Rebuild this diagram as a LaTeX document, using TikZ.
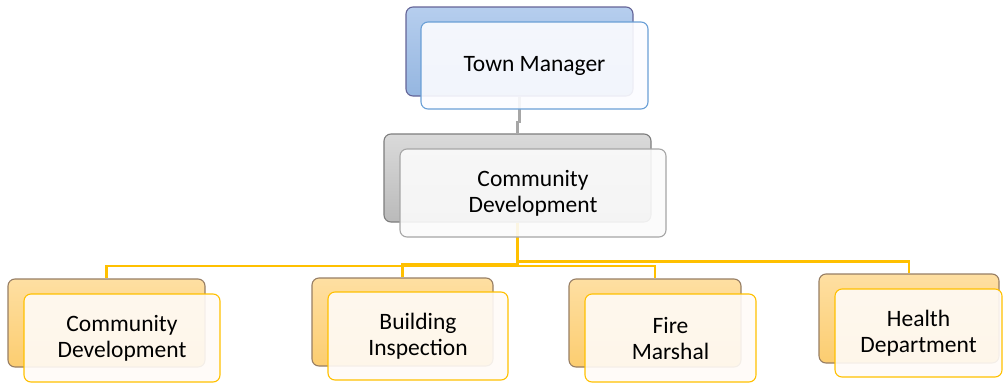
\documentclass[tikz,border=0pt]{standalone}
\usepackage{fontspec}
\setmainfont{Carlito}
\usepackage{tikz}
\usetikzlibrary{positioning}

\definecolor{bluetop}{HTML}{B6CEEE}
\definecolor{bluebot}{HTML}{95B6E0}
\definecolor{blueline}{HTML}{6A9FD6}
\definecolor{graytop}{HTML}{DADADA}
\definecolor{graybot}{HTML}{BABABA}
\definecolor{grayline}{HTML}{A6A6A6}
\definecolor{orangetop}{HTML}{FEDFA2}
\definecolor{orangebot}{HTML}{FCCD70}
\definecolor{gold}{HTML}{FFC000}
\definecolor{backline}{HTML}{7D7D7D}

\begin{document}
\begin{tikzpicture}[x=1pt, y=-1pt,
    backbox/.style={draw=backline, rounded corners=7pt, line width=1.1pt, inner sep=0pt},
    frontbox/.style={rounded corners=7pt, line width=1.1pt, inner sep=0pt,
        fill opacity=0.9, text opacity=1, align=center,
        font=\fontsize{23.5}{26}\selectfont},
    bluebox/.style={backbox, top color=bluetop, bottom color=bluebot, draw=backline!80!blue},
    graybox/.style={backbox, top color=graytop, bottom color=graybot},
    orangebox/.style={backbox, top color=orangetop, bottom color=orangebot, draw=backline!80!orange},
    bluefront/.style={frontbox, draw=blueline, fill=blue!1},
    grayfront/.style={frontbox, draw=grayline, fill=gray!3},
    orangefront/.style={frontbox, draw=gold, fill=orange!3},
    link/.style={draw=gold, line width=2.2pt}]
    \useasboundingbox (0,0) rectangle (1003,383);

    % Elbows
    \coordinate (j0) at (519.5,122);
    \coordinate (h1) at (517.5,266);
    \coordinate (h2) at (517.5,264.5);
    \coordinate (h3) at (517.5,266);
    \coordinate (h4) at (517.5,261.5);

    % Back boxes
    \node[bluebox, minimum width=227, minimum height=89] (tm-back) at (519.5,51.5) {};
    \node[graybox, minimum width=267, minimum height=88] (cd-back) at (517.5,178) {};
    \node[orangebox, minimum width=197, minimum height=88] (c1-back) at (106.5,323) {};
    \node[orangebox, minimum width=181, minimum height=88] (c2-back) at (402.5,322) {};
    \node[orangebox, minimum width=172, minimum height=88] (c3-back) at (655,323) {};
    \node[orangebox, minimum width=180, minimum height=89] (c4-back) at (909,318.5) {};

    % Edges
    \draw[draw=grayline, line width=2.6pt] (tm-back.south) -- (j0) -| (cd-back.north);
    \draw[link] (cd-back.south) -- (h1) -| (c1-back.north);
    \draw[link] (cd-back.south) -- (h2) -| (c2-back.north);
    \draw[link] (cd-back.south) -- (h3) -| (c3-back.north);
    \draw[link] (cd-back.south) -- (h4) -| (c4-back.north);

    % Front boxes
    \node[bluefront, minimum width=227, minimum height=87] (tm) at (534.5,65.5) {Town Manager};
    \node[grayfront, minimum width=266, minimum height=88] (cd) at (533,193) {Community\\Development};
    \node[orangefront, minimum width=196, minimum height=88] (c1) at (122,338) {Community\\Development};
    \node[orangefront, minimum width=180, minimum height=88] (c2) at (418,336) {Building\\Inspection};
    \node[orangefront, minimum width=171, minimum height=88] (c3) at (670.5,338) {Fire\\Marshal};
    \node[orangefront, minimum width=167, minimum height=88] (c4) at (918.5,333) {Health\\Department};
\end{tikzpicture}
\end{document}
